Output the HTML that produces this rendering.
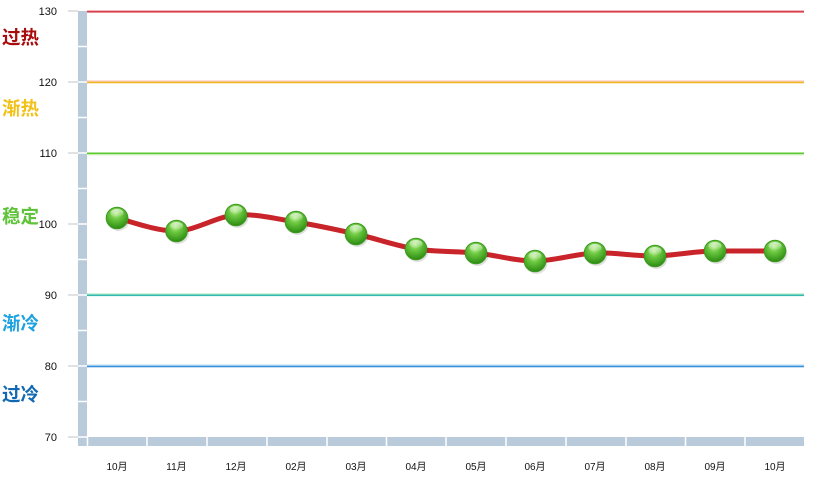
<!DOCTYPE html>
<html>
<head>
<meta charset="utf-8">
<style>
html,body{margin:0;padding:0;background:#fff;}
svg{display:block;}
</style>
</head>
<body>
<svg width="822" height="485" viewBox="0 0 822 485" xmlns="http://www.w3.org/2000/svg">
<defs>
<radialGradient id="ball" cx="0.45" cy="0.3" r="0.75">
<stop offset="0" stop-color="#b8ec90"/>
<stop offset="0.35" stop-color="#6cc840"/>
<stop offset="0.8" stop-color="#3a9a1c"/>
<stop offset="1" stop-color="#2a7a12"/>
</radialGradient>
<linearGradient id="hl" x1="0" y1="0" x2="0" y2="1">
<stop offset="0" stop-color="#ffffff" stop-opacity="0.7"/>
<stop offset="1" stop-color="#ffffff" stop-opacity="0.05"/>
</linearGradient>
<g id="m">
<circle cx="1.5" cy="2" r="11" fill="#000" opacity="0.12"/>
<circle cx="0" cy="0" r="10.8" fill="url(#ball)" stroke="#3d9a20" stroke-width="1"/>
<ellipse cx="0" cy="-5" rx="6.5" ry="4" fill="url(#hl)"/>
</g>
</defs>

<!-- wall -->
<rect x="78" y="11" width="9" height="435" fill="#b9cadb"/>
<!-- floor -->
<rect x="78" y="437" width="726" height="9" fill="#b9cadb"/>
<!-- wall separators -->
<g stroke="#ffffff" stroke-width="1.5">
<line x1="78" y1="46.5" x2="87" y2="46.5"/>
<line x1="78" y1="82" x2="87" y2="82"/>
<line x1="78" y1="117.5" x2="87" y2="117.5"/>
<line x1="78" y1="153" x2="87" y2="153"/>
<line x1="78" y1="188.5" x2="87" y2="188.5"/>
<line x1="78" y1="224" x2="87" y2="224"/>
<line x1="78" y1="259.5" x2="87" y2="259.5"/>
<line x1="78" y1="295" x2="87" y2="295"/>
<line x1="78" y1="330.5" x2="87" y2="330.5"/>
<line x1="78" y1="366" x2="87" y2="366"/>
<line x1="78" y1="401.5" x2="87" y2="401.5"/>
<line x1="78" y1="437" x2="87" y2="437"/>
<line x1="87.5" y1="437" x2="87.5" y2="446"/>
<line x1="147" y1="437" x2="147" y2="446"/>
<line x1="207" y1="437" x2="207" y2="446"/>
<line x1="267" y1="437" x2="267" y2="446"/>
<line x1="327" y1="437" x2="327" y2="446"/>
<line x1="386.5" y1="437" x2="386.5" y2="446"/>
<line x1="446" y1="437" x2="446" y2="446"/>
<line x1="506" y1="437" x2="506" y2="446"/>
<line x1="566" y1="437" x2="566" y2="446"/>
<line x1="626" y1="437" x2="626" y2="446"/>
<line x1="685.5" y1="437" x2="685.5" y2="446"/>
<line x1="745" y1="437" x2="745" y2="446"/>
</g>

<!-- ticks -->
<g stroke="#c4c4c4" stroke-width="1">
<line x1="68" y1="11" x2="78" y2="11"/>
<line x1="68" y1="82" x2="78" y2="82"/>
<line x1="68" y1="153" x2="78" y2="153"/>
<line x1="68" y1="224" x2="78" y2="224"/>
<line x1="68" y1="295" x2="78" y2="295"/>
<line x1="68" y1="366" x2="78" y2="366"/>
<line x1="68" y1="437" x2="78" y2="437"/>
</g>

<!-- y labels -->
<g font-family="Liberation Sans, sans-serif" font-size="11" fill="#111" text-anchor="end">
<text x="57" y="15">130</text>
<text x="57" y="86">120</text>
<text x="57" y="157">110</text>
<text x="57" y="228">100</text>
<text x="57" y="299">90</text>
<text x="57" y="370">80</text>
<text x="57" y="441">70</text>
</g>

<!-- zone labels -->
<g font-family="Liberation Sans, 'Noto Sans CJK SC', 'WenQuanYi Zen Hei', sans-serif" font-size="18.5" font-weight="bold">
<text x="2" y="44" fill="#a80c0c">过热</text>
<text x="2" y="115" fill="#f2c21a">渐热</text>
<text x="2" y="223" fill="#5ec33a">稳定</text>
<text x="2" y="330" fill="#1fa3e0">渐冷</text>
<text x="2" y="401" fill="#1268b2">过冷</text>
</g>

<!-- threshold lines -->
<rect x="87" y="10" width="717" height="1" fill="#f4b8bc"/>
<rect x="87" y="11" width="717" height="1.6" fill="#d8404c"/>
<rect x="87" y="80.5" width="717" height="1.2" fill="#f8c0b0"/>
<rect x="87" y="81.7" width="717" height="1.6" fill="#f0b828"/>
<rect x="87" y="152.5" width="717" height="1.6" fill="#5cc830"/>
<rect x="87" y="154.1" width="717" height="1.2" fill="#c8eeb0"/>
<rect x="87" y="293.3" width="717" height="1.2" fill="#b8eec8"/>
<rect x="87" y="294.5" width="717" height="1.6" fill="#34b8b0"/>
<rect x="87" y="364.5" width="717" height="1.2" fill="#b8dcf4"/>
<rect x="87" y="365.7" width="717" height="1.6" fill="#3a90d8"/>

<!-- data line -->
<path d="M117,218 C126.9,220.17 156.67,231.5 176.5,231 C196.33,230.5 216.08,216.5 236,215 C255.92,213.5 276,218.83 296,222 C316,225.17 336,229.5 356,234 C376,238.5 396,245.83 416,249 C436,252.17 456.17,251 476,253 C495.83,255 515.17,261 535,261 C554.83,261 575,253.83 595,253 C615,252.17 635,256.33 655,256 C675,255.67 695,251 715,251 C735,251 765,251 775,251" fill="none" stroke="#c8242a" stroke-width="5" stroke-linejoin="round" stroke-linecap="round"/>

<!-- markers -->
<use href="#m" x="117" y="218"/>
<use href="#m" x="176.5" y="231"/>
<use href="#m" x="236" y="215"/>
<use href="#m" x="296" y="222"/>
<use href="#m" x="356" y="234"/>
<use href="#m" x="416" y="249"/>
<use href="#m" x="476" y="253"/>
<use href="#m" x="535" y="261"/>
<use href="#m" x="595" y="253"/>
<use href="#m" x="655" y="256"/>
<use href="#m" x="715" y="251"/>
<use href="#m" x="775" y="251"/>

<!-- x labels -->
<g font-family="Liberation Sans, 'Noto Sans CJK SC', 'WenQuanYi Zen Hei', sans-serif" font-size="10" fill="#111" text-anchor="middle">
<text x="117" y="470">10月</text>
<text x="176.5" y="470">11月</text>
<text x="236" y="470">12月</text>
<text x="296" y="470">02月</text>
<text x="356" y="470">03月</text>
<text x="416" y="470">04月</text>
<text x="476" y="470">05月</text>
<text x="535" y="470">06月</text>
<text x="595" y="470">07月</text>
<text x="655" y="470">08月</text>
<text x="715" y="470">09月</text>
<text x="775" y="470">10月</text>
</g>
</svg>
</body>
</html>
